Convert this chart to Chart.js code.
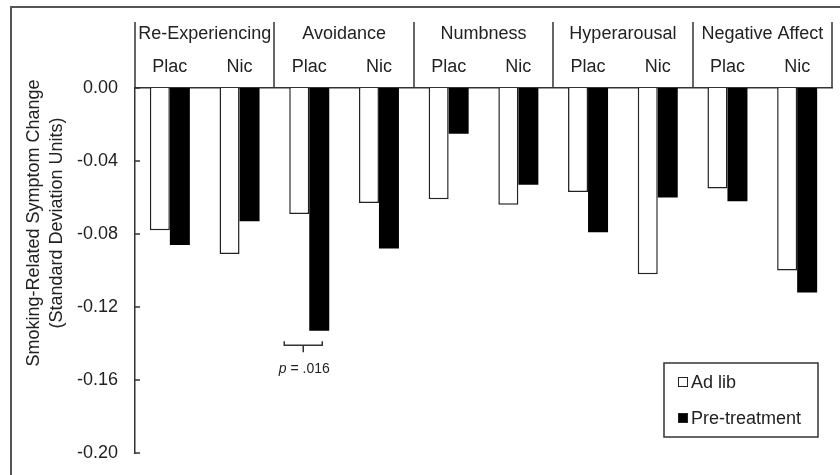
<!DOCTYPE html>
<html>
<head>
<meta charset="utf-8">
<script src="https://cdn.jsdelivr.net/npm/chart.js@4"></script>
<style>
  html, body { margin: 0; padding: 0; background: #fff; }
  #wrap { width: 840px; height: 475px; }
</style>
</head>
<body>
<div id="wrap"><canvas id="chart" width="840" height="475"></canvas></div>
<script>
// symptom groups and drug condition under each one
const groups = ['Re-Experiencing', 'Avoidance', 'Numbness', 'Hyperarousal', 'Negative Affect'];
const conditions = ['Plac', 'Nic', 'Plac', 'Nic', 'Plac', 'Nic', 'Plac', 'Nic', 'Plac', 'Nic'];

// values (SD units)
const adLib = [-0.078, -0.091, -0.069, -0.063, -0.061, -0.064, -0.057, -0.102, -0.055, -0.100];
const preTreatment = [-0.086, -0.073, -0.133, -0.088, -0.025, -0.053, -0.079, -0.060, -0.062, -0.112];

const yTicks = [0, -0.04, -0.08, -0.12, -0.16, -0.20];

const FONT = 'Arial, "Liberation Sans", sans-serif';
const LINE = '#333';

// frame, group header, inward ticks, legend and p value note
const extras = {
    id: 'extras',
    afterDraw(chart) {
        const ctx = chart.ctx;
        const x = chart.scales.x;
        const y = chart.scales.y;
        const area = chart.chartArea;
        ctx.save();

        // outer frame (runs off the right and bottom edges)
        ctx.strokeStyle = '#555';
        ctx.lineWidth = 2;
        ctx.beginPath();
        ctx.moveTo(11, 475);
        ctx.lineTo(11, 7);
        ctx.lineTo(840, 7);
        ctx.stroke();

        // group separators in the header
        ctx.strokeStyle = LINE;
        ctx.lineWidth = 1.5;
        for (let i = 0; i <= conditions.length; i += 2) {
            const px = Math.round(x.getPixelForValue(i - 0.5));
            ctx.beginPath();
            ctx.moveTo(px, 22);
            ctx.lineTo(px, area.top);
            ctx.stroke();
        }

        // group names
        ctx.fillStyle = '#222';
        ctx.font = '18px ' + FONT;
        ctx.textAlign = 'center';
        ctx.textBaseline = 'middle';
        groups.forEach((g, i) => {
            const cx = (x.getPixelForValue(i * 2 - 0.5) + x.getPixelForValue(i * 2 + 1.5)) / 2;
            ctx.fillText(g, cx, 34);
        });

        // inward tick marks on the y axis
        yTicks.forEach(v => {
            const py = Math.round(y.getPixelForValue(v));
            ctx.beginPath();
            ctx.moveTo(area.left, py);
            ctx.lineTo(area.left + 5, py);
            ctx.stroke();
        });

        // axis title, two lines
        ctx.save();
        ctx.translate(34, 223);
        ctx.rotate(-Math.PI / 2);
        ctx.fillText('Smoking-Related Symptom Change', 0, 0);
        ctx.fillText('(Standard Deviation Units)', 0, 23);
        ctx.restore();

        // bracket and p value under Avoidance / Plac
        const bx = x.getPixelForValue(2) - 6;
        const by = y.getPixelForValue(-0.141);
        ctx.lineWidth = 1.5;
        ctx.beginPath();
        ctx.moveTo(bx - 19, by - 4);
        ctx.lineTo(bx - 19, by);
        ctx.lineTo(bx + 19, by);
        ctx.lineTo(bx + 19, by - 4);
        ctx.moveTo(bx, by);
        ctx.lineTo(bx, by + 7);
        ctx.stroke();
        ctx.font = 'italic 14px ' + FONT;
        const pW = ctx.measureText('p').width;
        ctx.font = '14px ' + FONT;
        const tw = pW + ctx.measureText(' = .016').width;
        const tx = bx + 1 - tw / 2;
        ctx.textAlign = 'left';
        ctx.font = 'italic 14px ' + FONT;
        ctx.fillText('p', tx, by + 24);
        ctx.font = '14px ' + FONT;
        ctx.fillText(' = .016', tx + pW, by + 24);

        // legend box
        ctx.strokeStyle = LINE;
        ctx.lineWidth = 1.5;
        ctx.strokeRect(664, 363, 154, 74);
        ctx.font = '18px ' + FONT;
        chart.data.datasets.forEach((ds, i) => {
            const ly = 382 + i * 36;
            ctx.fillStyle = ds.backgroundColor;
            ctx.fillRect(678, ly - 5, 10, 10);
            ctx.strokeStyle = '#222';
            ctx.lineWidth = 1;
            ctx.strokeRect(678.5, ly - 4.5, 9, 9);
            ctx.fillStyle = '#222';
            ctx.textAlign = 'left';
            ctx.fillText(ds.label, 691, ly + 1);
        });

        ctx.restore();
    }
};

new Chart(document.getElementById('chart'), {
    type: 'bar',
    data: {
        labels: conditions,
        datasets: [
            {
                label: 'Ad lib',
                data: adLib,
                backgroundColor: '#ffffff',
                borderColor: '#222',
                borderWidth: 1.5,
                categoryPercentage: 0.574,
                barPercentage: 1.0
            },
            {
                label: 'Pre-treatment',
                data: preTreatment,
                backgroundColor: '#000000',
                borderColor: '#000000',
                borderWidth: 0,
                categoryPercentage: 0.574,
                barPercentage: 1.0
            }
        ]
    },
    options: {
        responsive: false,
        animation: false,
        layout: { padding: { left: 0, right: 8, top: 0, bottom: 22 } },
        plugins: {
            legend: { display: false },
            tooltip: { enabled: false }
        },
        scales: {
            x: {
                position: 'top',
                afterFit: s => { s.height = 88; },
                grid: { display: false, drawTicks: false },
                border: { display: true, color: LINE, width: 1.5 },
                ticks: {
                    color: '#222',
                    padding: 10,
                    font: { family: FONT, size: 18 }
                }
            },
            y: {
                min: -0.2,
                max: 0,
                afterFit: s => {
                    s.width = 135;
                    s.paddingTop = 0;
                    s.paddingBottom = 0;
                },
                afterBuildTicks: s => { s.ticks = yTicks.map(v => ({ value: v })); },
                grid: { display: false, drawTicks: false },
                border: { display: true, color: LINE, width: 1.5 },
                ticks: {
                    color: '#222',
                    padding: 17,
                    font: { family: FONT, size: 18 },
                    callback: v => v.toFixed(2)
                }
            }
        }
    },
    plugins: [extras]
});
</script>
</body>
</html>
